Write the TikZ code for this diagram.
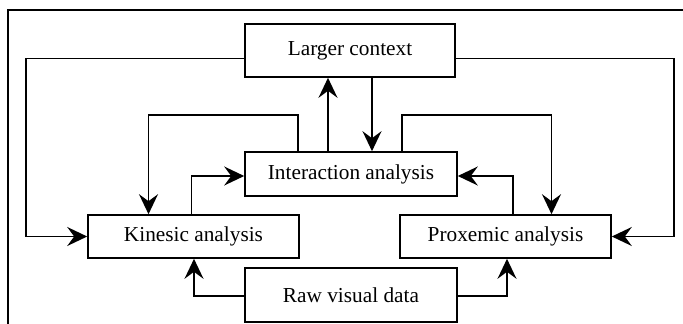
\documentclass[tikz,border=0pt]{standalone}
\usepackage{fontspec}
\setmainfont{Liberation Serif}
\usetikzlibrary{arrows.meta}
\tikzset{
  box/.style={draw, line width=1.6pt, inner sep=0pt, minimum width=211pt, font=\fontsize{21.3}{24}\selectfont},
  conn/.style={line width=1.6pt},
  arr/.style={conn, -{Stealth[length=20pt,width=19pt,inset=7pt]}},
  frame/.style={line width=1.6pt}
}
\begin{document}
\begin{tikzpicture}[x=1pt,y=-1pt]
\useasboundingbox (0,0) rectangle (683,324);
\clip (0,0) rectangle (683,324);
% outer frame
\coordinate (fb) at (8,330);
\coordinate (fc) at (8,10);
\coordinate (fr) at (690,10);
\draw[frame] (fb) -- (fc) -- (fr);
% boxes
\node[box, minimum width=210pt, minimum height=53pt] (L) at (350,50.5) {Larger context};
\node[box, minimum width=212pt, minimum height=44pt] (I) at (351,174) {Interaction analysis};
\node[box, minimum width=211pt, minimum height=43pt] (K) at (193.5,236.5) {Kinesic analysis};
\node[box, minimum width=211pt, minimum height=43pt] (P) at (505.5,236.5) {Proxemic analysis};
\node[box, minimum width=212pt, minimum height=54pt] (R) at (351,295) {Raw visual data};
% connectors
\draw[arr] ([yshift=-8pt]L.west) -- ++(-218.3,0) |- (K.west);
\draw[arr] ([yshift=-8pt]L.east) -- ++(218,0) |- (P.east);
\draw[arr] ([xshift=-23pt]I.north) -- ([xshift=-22pt]L.south);
\draw[arr] ([xshift=22pt]L.south) -- ([xshift=21pt]I.north);
\draw[arr] ([xshift=-53pt]I.north) -- ++(0,-36) -| ([xshift=-45pt]K.north);
\draw[arr] ([xshift=-2pt]K.north) |- ([yshift=-2pt]I.west);
\draw[arr] ([xshift=51pt]I.north) -- ++(0,-36) -| ([xshift=46pt]P.north);
\draw[arr] ([xshift=7.5pt]P.north) |- ([yshift=-2pt]I.east);
\draw[arr] ([yshift=-1pt]R.west) -| ([xshift=0.5pt]K.south);
\draw[arr] ([yshift=-1pt]R.east) -| ([xshift=1.5pt]P.south);
\end{tikzpicture}
\end{document}
